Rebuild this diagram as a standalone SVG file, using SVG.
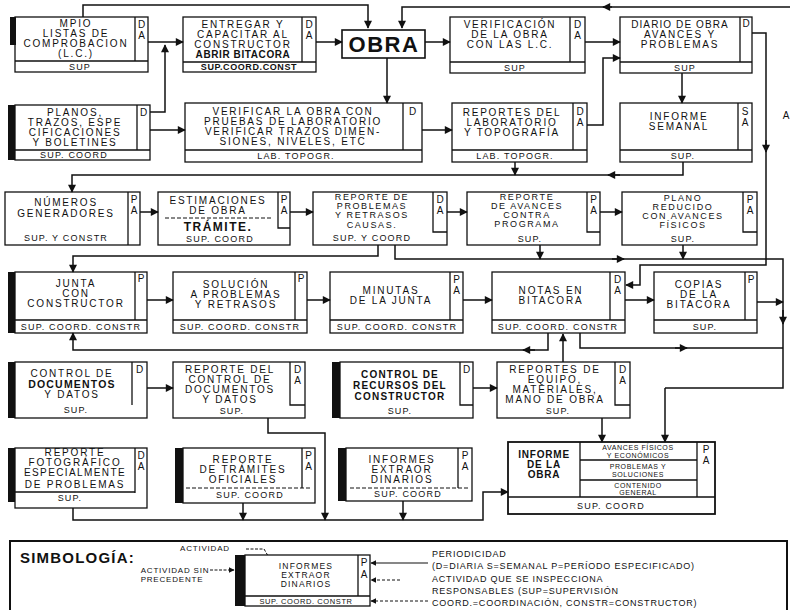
<svg xmlns="http://www.w3.org/2000/svg" width="791" height="610" viewBox="0 0 791 610">
<defs>
<marker id="ah" viewBox="0 0 10 10" refX="9" refY="5" markerWidth="9" markerHeight="8" orient="auto" markerUnits="userSpaceOnUse"><path d="M0 0L10 5L0 10z" fill="#111"/></marker>
<marker id="ahs" viewBox="0 0 10 10" refX="9" refY="5" markerWidth="6" markerHeight="6" orient="auto" markerUnits="userSpaceOnUse"><path d="M0 0L10 5L0 10z" fill="#111"/></marker>
<style>
.box{fill:#fff;stroke:#111;stroke-width:1.3}
.ln{fill:none;stroke:#111;stroke-width:1.3}
.dl{fill:none;stroke:#111;stroke-width:1;stroke-dasharray:4 2}
.bar{fill:#111}
.t{font-family:"Liberation Sans",Arial,sans-serif;font-size:10px;letter-spacing:1.8px;text-anchor:middle;fill:#111}
.f5{font-size:9px;letter-spacing:1.6px}
.s{font-size:9px;letter-spacing:1.2px}
.c{font-size:10px;letter-spacing:0}
.b{font-weight:bold}
.m{font-size:7px;letter-spacing:0.6px}
.cn{fill:none;stroke:#111;stroke-width:1.5;marker-end:url(#ah)}
.cp{fill:none;stroke:#111;stroke-width:1.5}
.lg{font-family:"Liberation Sans",Arial,sans-serif;font-size:9px;letter-spacing:0.8px;fill:#111}
</style>
</defs>
<rect width="791" height="610" fill="#fff"/>

<g id="n01">
<rect class="box" x="15" y="17" width="133" height="55"/>
<path class="ln" d="M135 17V61M15 61H148"/>
<rect class="bar" x="10" y="17" width="6" height="28"/>
<text class="t c" x="141.5" y="28">D</text><text class="t c" x="141.5" y="39">A</text>
<text class="t" x="76" y="27">MPIO</text>
<text class="t" x="76" y="37">LISTAS DE</text>
<text class="t" x="76" y="47">COMPROBACION</text>
<text class="t" x="76" y="57">(L.C.)</text>
<text class="t s" x="80" y="70">SUP</text>
</g>

<g id="n02">
<rect class="box" x="183" y="17" width="133" height="55"/>
<path class="ln" d="M302 17V62M183 62H316"/>
<text class="t c" x="309" y="28">D</text><text class="t c" x="309" y="39">A</text>
<text class="t" x="243" y="28">ENTREGAR Y</text>
<text class="t" x="243" y="38">CAPACITAR AL</text>
<text class="t" x="243" y="48">CONSTRUCTOR</text>
<text class="t b" x="243" y="58" style="letter-spacing:0.6px">ABRIR BITACORA</text>
<text class="t s b" x="249" y="70" style="letter-spacing:0.6px">SUP.COORD.CONST</text>
</g>

<g id="n03">
<rect class="box" x="342" y="30" width="83" height="28" style="stroke-width:1.6"/>
<text class="t b" x="384" y="52" style="font-size:22px;letter-spacing:1.5px">OBRA</text>
</g>

<g id="n04">
<rect class="box" x="450" y="17" width="135" height="56"/>
<path class="ln" d="M570 17V62M450 62H585"/>
<text class="t c" x="577.5" y="28">D</text><text class="t c" x="577.5" y="39">A</text>
<text class="t" x="510" y="28">VERIFICACIÓN</text>
<text class="t" x="510" y="38">DE LA OBRA</text>
<text class="t" x="510" y="48">CON LAS L.C.</text>
<text class="t s" x="515" y="71">SUP</text>
</g>

<g id="n05">
<rect class="box" x="620" y="17" width="132" height="56"/>
<path class="ln" d="M740 17V62M620 62H752"/>
<text class="t c" x="746" y="27">D</text>
<text class="t" x="680" y="28" style="letter-spacing:1.1px">DIARIO DE OBRA</text>
<text class="t" x="680" y="38">AVANCES Y</text>
<text class="t" x="680" y="48">PROBLEMAS</text>
<text class="t s" x="685" y="71">SUP</text>
</g>

<g id="n06">
<rect class="bar" x="8" y="105" width="7" height="55"/>
<rect class="box" x="15" y="105" width="135" height="55"/>
<path class="ln" d="M137 105V150M15 150H150"/>
<text class="t c" x="143.5" y="116">D</text>
<text class="t" x="75" y="116">PLANOS,</text>
<text class="t" x="75" y="126">TRAZOS, ESPE</text>
<text class="t" x="75" y="136">CIFICACIONES</text>
<text class="t" x="75" y="146">Y BOLETINES</text>
<text class="t s" x="74" y="158">SUP. COORD</text>
</g>

<g id="n07">
<rect class="box" x="185" y="103" width="237" height="59"/>
<path class="ln" d="M403 103V150M185 150H422"/>
<text class="t c" x="412.5" y="115">D</text>
<text class="t" x="293" y="115">VERIFICAR LA OBRA CON</text>
<text class="t" x="293" y="125">PRUEBAS DE LABORATORIO</text>
<text class="t" x="293" y="135">VERIFICAR TRAZOS DIMEN-</text>
<text class="t" x="293" y="145">SIONES, NIVELES, ETC</text>
<text class="t s" x="296" y="159">LAB. TOPOGR.</text>
</g>

<g id="n08">
<rect class="box" x="452" y="103" width="135" height="59"/>
<path class="ln" d="M573 103V150M452 150H587"/>
<text class="t c" x="580" y="115">D</text><text class="t c" x="580" y="126">A</text>
<text class="t" x="512" y="116">REPORTES DEL</text>
<text class="t" x="512" y="126">LABORATORIO</text>
<text class="t" x="512" y="136">Y TOPOGRAFÍA</text>
<text class="t s" x="515" y="159">LAB. TOPOGR.</text>
</g>

<g id="n09">
<rect class="box" x="620" y="103" width="132" height="59"/>
<path class="ln" d="M738 103V150M620 150H752"/>
<text class="t c" x="745" y="115">S</text><text class="t c" x="745" y="126">A</text>
<text class="t" x="679" y="120">INFORME</text>
<text class="t" x="679" y="130">SEMANAL</text>
<text class="t s" x="683" y="159">SUP.</text>
</g>

<g id="n10">
<rect class="box" x="5" y="192" width="135" height="53"/>
<path class="ln" d="M128 192V245"/>
<text class="t c" x="134" y="203">P</text><text class="t c" x="134" y="214">A</text>
<text class="t" x="66" y="206">NÚMEROS</text>
<text class="t" x="66" y="217">GENERADORES</text>
<text class="t s" x="66" y="241">SUP. Y CONSTR</text>
</g>

<g id="n11">
<rect class="box" x="158" y="192" width="132" height="53"/>
<path class="ln" d="M278 192V228H290"/>
<path class="dl" d="M165 218H272"/>
<text class="t c" x="284" y="203">P</text><text class="t c" x="284" y="214">A</text>
<text class="t" x="218" y="204">ESTIMACIONES</text>
<text class="t" x="218" y="214">DE OBRA</text>
<text class="t b" x="218" y="231" style="font-size:12px;letter-spacing:1.5px">TRÁMITE.</text>
<text class="t s" x="220" y="242">SUP. COORD</text>
</g>

<g id="n12">
<rect class="box" x="313" y="192" width="134" height="53"/>
<path class="ln" d="M433 192V232H447"/>
<text class="t c" x="440" y="203">D</text><text class="t c" x="440" y="214">A</text>
<text class="t f5" x="372" y="200">REPORTE DE</text>
<text class="t f5" x="372" y="209">PROBLEMAS</text>
<text class="t f5" x="372" y="218">Y RETRASOS</text>
<text class="t f5" x="372" y="228">CAUSAS.</text>
<text class="t s" x="372" y="241">SUP. Y COORD</text>
</g>

<g id="n13">
<rect class="box" x="467" y="192" width="133" height="53"/>
<path class="ln" d="M587 192V232H600"/>
<text class="t c" x="593.5" y="203">P</text><text class="t c" x="593.5" y="214">A</text>
<text class="t f5" x="527" y="200">REPORTE</text>
<text class="t f5" x="527" y="209">DE AVANCES</text>
<text class="t f5" x="527" y="218">CONTRA</text>
<text class="t f5" x="527" y="227">PROGRAMA</text>
<text class="t s" x="530" y="242">SUP.</text>
</g>

<g id="n14">
<rect class="box" x="622" y="192" width="135" height="53"/>
<path class="ln" d="M743 192V232H757"/>
<text class="t c" x="750" y="203">P</text><text class="t c" x="750" y="214">A</text>
<text class="t f5" x="683" y="201">PLANO</text>
<text class="t f5" x="683" y="210">REDUCIDO</text>
<text class="t f5" x="683" y="219">CON AVANCES</text>
<text class="t f5" x="683" y="228">FÍSICOS</text>
<text class="t s" x="683" y="242">SUP.</text>
</g>

<g id="n15">
<rect class="bar" x="8" y="272" width="7" height="61"/>
<rect class="box" x="15" y="272" width="132" height="61"/>
<path class="ln" d="M135 272V320M15 320H147"/>
<text class="t c" x="141" y="282">P</text>
<text class="t" x="76" y="287">JUNTA</text>
<text class="t" x="76" y="297">CON</text>
<text class="t" x="76" y="307">CONSTRUCTOR</text>
<text class="t s" x="81" y="330">SUP. COORD. CONSTR</text>
</g>

<g id="n16">
<rect class="box" x="173" y="272" width="134" height="61"/>
<path class="ln" d="M295 272V320M173 320H307"/>
<text class="t c" x="301" y="282">P</text>
<text class="t" x="236" y="288">SOLUCIÓN</text>
<text class="t" x="236" y="298">A PROBLEMAS</text>
<text class="t" x="236" y="308">Y RETRASOS</text>
<text class="t s" x="240" y="330">SUP. COORD. CONSTR</text>
</g>

<g id="n17">
<rect class="box" x="330" y="272" width="133" height="61"/>
<path class="ln" d="M450 272V320M330 320H463"/>
<text class="t c" x="456.5" y="283">P</text><text class="t c" x="456.5" y="294">A</text>
<text class="t" x="391" y="294">MINUTAS</text>
<text class="t" x="391" y="304">DE LA JUNTA</text>
<text class="t s" x="397" y="330">SUP. COORD. CONSTR</text>
</g>

<g id="n18">
<rect class="box" x="492" y="272" width="133" height="61"/>
<path class="ln" d="M610 272V320M492 320H625"/>
<text class="t c" x="617.5" y="283">D</text><text class="t c" x="617.5" y="294">A</text>
<text class="t" x="551" y="294">NOTAS EN</text>
<text class="t" x="551" y="304">BITACORA</text>
<text class="t s" x="558" y="330">SUP. COORD. CONSTR</text>
</g>

<g id="n19">
<rect class="box" x="654" y="272" width="103" height="61"/>
<path class="ln" d="M745 272V320M654 320H757"/>
<text class="t c" x="751" y="283">P</text>
<text class="t" x="699" y="288">COPIAS</text>
<text class="t" x="699" y="298">DE LA</text>
<text class="t" x="699" y="308">BITACORA</text>
<text class="t s" x="705" y="330">SUP.</text>
</g>

<g id="n20">
<rect class="bar" x="8" y="362" width="7" height="56"/>
<rect class="box" x="15" y="362" width="132" height="56"/>
<path class="ln" d="M132 362V405"/>
<text class="t c" x="139.5" y="373">D</text>
<text class="t" x="72" y="377">CONTROL DE</text>
<text class="t b" x="72" y="388" style="font-size:10.5px;letter-spacing:1.2px">DOCUMENTOS</text>
<text class="t" x="72" y="398">Y DATOS</text>
<text class="t s" x="76" y="413">SUP.</text>
</g>

<g id="n21">
<rect class="box" x="173" y="362" width="132" height="56"/>
<path class="ln" d="M290 362V405H305"/>
<text class="t c" x="297.5" y="373">D</text><text class="t c" x="297.5" y="384">A</text>
<text class="t" x="230" y="373">REPORTE DEL</text>
<text class="t" x="230" y="383">CONTROL DE</text>
<text class="t" x="230" y="393">DOCUMENTOS</text>
<text class="t" x="230" y="403">Y DATOS</text>
<text class="t s" x="232" y="414">SUP.</text>
</g>

<g id="n22">
<rect class="bar" x="332" y="362" width="8" height="56"/>
<rect class="box" x="340" y="362" width="133" height="56"/>
<path class="ln" d="M460 362V405H473"/>
<text class="t c" x="466.5" y="373">D</text>
<text class="t b" x="400" y="378" style="letter-spacing:1.2px">CONTROL DE</text>
<text class="t b" x="400" y="389" style="letter-spacing:1.2px">RECURSOS DEL</text>
<text class="t b" x="400" y="400" style="letter-spacing:1.2px">CONSTRUCTOR</text>
<text class="t s" x="400" y="414">SUP.</text>
</g>

<g id="n23">
<rect class="box" x="497" y="362" width="133" height="56"/>
<path class="ln" d="M615 362V405H630"/>
<text class="t c" x="622.5" y="373">D</text><text class="t c" x="622.5" y="384">A</text>
<text class="t" x="555" y="373">REPORTES DE</text>
<text class="t" x="555" y="383">EQUIPO,</text>
<text class="t" x="555" y="393">MATERIALES,</text>
<text class="t" x="555" y="403">MANO DE OBRA</text>
<text class="t s" x="558" y="414">SUP.</text>
</g>

<g id="n24">
<rect class="bar" x="8" y="448" width="7" height="54"/>
<rect class="box" x="15" y="448" width="132" height="60"/>
<path class="ln" d="M135 448V493M15 492H135"/>
<text class="t c" x="141" y="459">D</text><text class="t c" x="141" y="470">A</text>
<text class="t" x="75" y="456">REPORTE</text>
<text class="t" x="75" y="466">FOTOGRÁFICO</text>
<text class="t" x="75" y="476" style="letter-spacing:1.4px">ESPECIALMENTE</text>
<text class="t" x="75" y="488">DE PROBLEMAS</text>
<text class="t s" x="70" y="501">SUP.</text>
</g>

<g id="n25">
<rect class="bar" x="175" y="448" width="8" height="55"/>
<rect class="box" x="183" y="448" width="132" height="55"/>
<path class="ln" d="M302 448V488"/>
<path class="dl" d="M186 488H312"/>
<text class="t c" x="308.5" y="459">P</text><text class="t c" x="308.5" y="470">A</text>
<text class="t" x="243" y="463">REPORTE</text>
<text class="t" x="243" y="473">DE TRÁMITES</text>
<text class="t" x="243" y="483">OFICIALES</text>
<text class="t s" x="250" y="498">SUP. COORD</text>
</g>

<g id="n26">
<rect class="bar" x="338" y="448" width="8" height="53"/>
<rect class="box" x="346" y="448" width="126" height="53"/>
<path class="ln" d="M458 448V488"/>
<path class="dl" d="M350 488H470"/>
<text class="t c" x="465" y="459">P</text><text class="t c" x="465" y="470">A</text>
<text class="t" x="402" y="463">INFORMES</text>
<text class="t" x="402" y="473">EXTRAOR</text>
<text class="t" x="402" y="483">DINARIOS</text>
<text class="t s" x="408" y="497">SUP. COORD</text>
</g>

<g id="n27">
<rect class="box" x="508" y="442" width="207" height="72" style="stroke-width:1.8"/>
<path class="ln" d="M580 442V497M697 442V497M508 497H715M580 460H697M580 480H697"/>
<text class="t c" x="706" y="453">P</text><text class="t c" x="706" y="464">A</text>
<text class="t b" x="544" y="458" style="letter-spacing:0.8px">INFORME</text>
<text class="t b" x="544" y="468" style="letter-spacing:0.8px">DE LA</text>
<text class="t b" x="544" y="478" style="letter-spacing:0.8px">OBRA</text>
<text class="t m" x="638" y="450">AVANCES FÍSICOS</text>
<text class="t m" x="638" y="458">Y ECONÓMICOS</text>
<text class="t m" x="638" y="469">PROBLEMAS Y</text>
<text class="t m" x="638" y="477">SOLUCIONES</text>
<text class="t m" x="638" y="488">CONTENIDO</text>
<text class="t m" x="638" y="495">GENERAL</text>
<text class="t s" x="611" y="509">SUP. COORD</text>
</g>

<text class="t c" x="786" y="119">A</text>

<g id="connectors">
<path class="cn" d="M83 17V5H368V28"/>
<path class="cn" d="M790 7H402V28"/>
<path class="cn" d="M612 7H603"/>
<path class="cn" d="M148 42H183"/>
<path class="cn" d="M150 112H165V45"/>
<path class="cn" d="M316 42H342"/>
<path class="cn" d="M425 42H450"/>
<path class="cn" d="M387 58V103"/>
<path class="cn" d="M585 42H620"/>
<path class="cn" d="M587 125H603V58H620"/>
<path class="cn" d="M682 73V103"/>
<path class="cn" d="M752 33H766V265H640V285H626"/>
<path class="cn" d="M766 140V152"/>
<path class="cn" d="M150 130H185"/>
<path class="cn" d="M422 130H452"/>
<path class="cn" d="M515 162V175"/>
<path class="cn" d="M683 162V175H72V192"/>
<path class="cn" d="M620 175H608"/>
<path class="cn" d="M140 212H158"/>
<path class="cn" d="M290 212H313"/>
<path class="cn" d="M447 212H467"/>
<path class="cn" d="M600 212H622"/>
<path class="cn" d="M378 245V256H73V272"/>
<path class="cp" d="M395 245V259H783V388H665"/>
<path class="cn" d="M665 388V442"/>
<path class="cn" d="M612 259H624"/>
<path class="cn" d="M540 245V259"/>
<path class="cn" d="M683 245V259"/>
<path class="cn" d="M147 300H173"/>
<path class="cn" d="M307 300H330"/>
<path class="cn" d="M463 300H492"/>
<path class="cn" d="M625 300H654"/>
<path class="cn" d="M757 302H783"/>
<path class="cn" d="M783 310V324"/>
<path class="cn" d="M548 333V350H73V333"/>
<path class="cn" d="M535 350H523"/>
<path class="cp" d="M580 333V348H783"/>
<path class="cn" d="M675 348H687"/>
<path class="cn" d="M563 362V334"/>
<path class="cn" d="M147 388H173"/>
<path class="cn" d="M473 388H497"/>
<path class="cn" d="M268 418V433H325V520"/>
<path class="cn" d="M602 418V442"/>
<path class="cn" d="M73 508V520H483V492H508"/>
<path class="cn" d="M243 503V520"/>
<path class="cn" d="M403 501V520"/>
</g>

<g id="legend">
<rect x="10" y="541" width="777" height="80" fill="none" stroke="#111" stroke-width="2"/>
<text x="20" y="563" style="font-family:'Liberation Sans',Arial,sans-serif;font-size:15px;font-weight:bold;letter-spacing:1.2px" fill="#111">SIMBOLOGÍA:</text>
<text class="lg" x="180" y="551" style="font-size:8px">ACTIVIDAD</text>
<path d="M246 549H264L271 561" fill="none" stroke="#111" stroke-width="1" stroke-dasharray="3 1.5" marker-end="url(#ahs)"/>
<text class="lg" x="175" y="573" text-anchor="middle" style="font-size:8px">ACTIVIDAD SIN</text>
<text class="lg" x="172" y="582" text-anchor="middle" style="font-size:8px">PRECEDENTE</text>
<path d="M210 570H234" fill="none" stroke="#111" stroke-width="1" stroke-dasharray="3 1.5" marker-end="url(#ahs)"/>
<g id="legend-node">
<rect class="bar" x="235" y="555" width="10" height="51"/>
<rect class="box" x="245" y="555" width="125" height="51"/>
<path class="ln" d="M358 555V596M245 596H370"/>
<text class="t c" x="364" y="566">P</text><text class="t c" x="364" y="578">A</text>
<text class="t" x="306" y="569" style="font-size:8.5px;letter-spacing:1.2px">INFORMES</text>
<text class="t" x="306" y="578" style="font-size:8.5px;letter-spacing:1.2px">EXTRAOR</text>
<text class="t" x="306" y="587" style="font-size:8.5px;letter-spacing:1.2px">DINARIOS</text>
<text class="t s" x="306" y="604" style="font-size:7.5px;letter-spacing:0.6px">SUP. COORD. CONSTR</text>
</g>
<path d="M428 563H371" fill="none" stroke="#111" stroke-width="1.2" marker-end="url(#ahs)"/>
<path d="M400 580H371" fill="none" stroke="#111" stroke-width="1" stroke-dasharray="3 2" marker-end="url(#ahs)"/>
<path d="M428 601H371" fill="none" stroke="#111" stroke-width="1" stroke-dasharray="3 2" marker-end="url(#ahs)"/>
<text class="lg" x="432" y="557">PERIODICIDAD</text>
<text class="lg" x="432" y="569">(D=DIARIA  S=SEMANAL  P=PERÍODO ESPECIFICADO)</text>
<text class="lg" x="432" y="582">ACTIVIDAD QUE SE INSPECCIONA</text>
<text class="lg" x="432" y="594">RESPONSABLES (SUP=SUPERVISIÓN</text>
<text class="lg" x="432" y="606">COORD.=COORDINACIÓN, CONSTR=CONSTRUCTOR)</text>
</g>
</svg>
